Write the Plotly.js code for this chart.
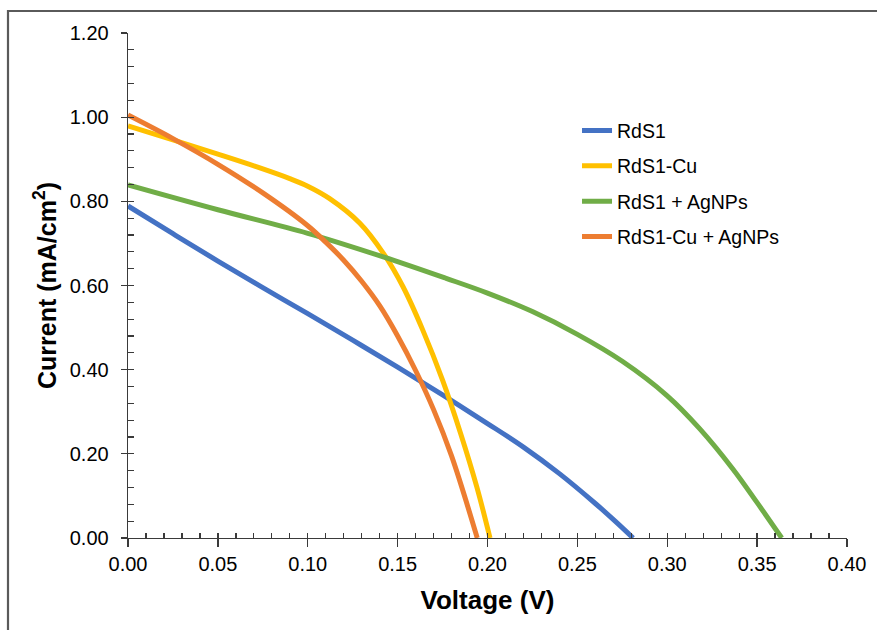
<!DOCTYPE html>
<html>
<head>
<meta charset="utf-8">
<script src="https://cdn.plot.ly/plotly-3.0.1.min.js"></script>
<style>html,body{margin:0;padding:0;background:#fff;}#chart{width:877px;height:630px;}</style>
</head>
<body>
<div id="chart"></div>
<script>
// Series names
const seriesNames = ["RdS1", "RdS1-Cu", "RdS1 + AgNPs", "RdS1-Cu + AgNPs"];
const seriesColors = ["#4472C4", "#FFC000", "#70AD47", "#ED7D31"];

// RdS1
const vRdS1 = [0, 0.025, 0.05, 0.075, 0.10, 0.125, 0.15, 0.175, 0.20, 0.22, 0.24, 0.26, 0.271, 0.281];
const jRdS1 = [0.789, 0.723, 0.658, 0.595, 0.533, 0.470, 0.406, 0.340, 0.272, 0.216, 0.153, 0.082, 0.040, 0];

// RdS1-Cu
const vRdS1Cu = [0, 0.025, 0.05, 0.075, 0.09, 0.10, 0.112, 0.129, 0.142, 0.153, 0.164, 0.175, 0.185, 0.194, 0.2014];
const jRdS1Cu = [0.979, 0.946, 0.912, 0.877, 0.854, 0.836, 0.807, 0.748, 0.677, 0.597, 0.494, 0.375, 0.249, 0.122, 0];

// RdS1 + AgNPs
const vRdS1Ag = [0, 0.05, 0.10, 0.142, 0.177, 0.20, 0.225, 0.25, 0.275, 0.30, 0.318, 0.3367, 0.35, 0.3637];
const jRdS1Ag = [0.839, 0.780, 0.724, 0.668, 0.617, 0.582, 0.538, 0.484, 0.420, 0.338, 0.260, 0.163, 0.084, 0];

// RdS1-Cu + AgNPs
const vRdS1CuAg = [0, 0.025, 0.05, 0.075, 0.10, 0.11, 0.12, 0.13, 0.14, 0.15, 0.16, 0.17, 0.18, 0.1943];
const jRdS1CuAg = [1.005, 0.949, 0.888, 0.820, 0.742, 0.703, 0.660, 0.610, 0.552, 0.480, 0.398, 0.305, 0.195, 0];

// Axis ticks
const xTickVals = [0, 0.05, 0.10, 0.15, 0.20, 0.25, 0.30, 0.35, 0.40];
const yTickVals = [0, 0.20, 0.40, 0.60, 0.80, 1.00, 1.20];

const xs = [vRdS1, vRdS1Cu, vRdS1Ag, vRdS1CuAg];
const ys = [jRdS1, jRdS1Cu, jRdS1Ag, jRdS1CuAg];

const font = "Liberation Sans, Arial, sans-serif";
const axisColor = "#3a3a3a";

const traces = seriesNames.map((n, i) => ({
  type: "scatter", mode: "lines", name: n,
  x: xs[i], y: ys[i],
  line: {color: seriesColors[i], width: 5, shape: "spline", smoothing: 1},
  legendgroup: "g" + i,
  hoverinfo: "x+y+name"
}));
// helper trace so the minor-tick overlay axes are drawn
traces.push({type: "scatter", mode: "lines", x: [null], y: [null], xaxis: "x2", yaxis: "y2",
  showlegend: false, hoverinfo: "skip"});

const layout = {
  width: 877, height: 630,
  margin: {l: 128, r: 30, t: 33, b: 92},
  paper_bgcolor: "#ffffff", plot_bgcolor: "#ffffff",
  font: {family: font, color: "#000"},
  showlegend: true,
  legend: {
    x: 0.6245, y: 0.845, xanchor: "left", yanchor: "top",
    font: {family: font, size: 19.5, color: "#000"},
    tracegroupgap: 7, bgcolor: "rgba(0,0,0,0)"
  },
  xaxis: {
    range: [0, 0.4], tickvals: xTickVals, tickformat: ".2f",
    ticks: "outside", ticklen: 8, tickwidth: 1.3, tickcolor: axisColor,
    showline: true, linecolor: axisColor, linewidth: 1.3,
    showgrid: false, zeroline: false,
    tickfont: {family: font, size: 20, color: "#000"},
    title: {text: "<b>Voltage (V)</b>", font: {family: font, size: 26, color: "#000"}, standoff: 16}
  },
  yaxis: {
    range: [0, 1.2], tickvals: yTickVals, tickformat: ".2f",
    ticks: "outside", ticklen: 6, tickwidth: 1.3, tickcolor: axisColor,
    showline: true, linecolor: axisColor, linewidth: 1.3,
    showgrid: false, zeroline: false,
    tickfont: {family: font, size: 20, color: "#000"},
    ticklabelstandoff: 8,
    title: {text: "<b>Current (mA/cm<sup>2</sup>)</b>", font: {family: font, size: 25, color: "#000"}, standoff: 6}
  },
  xaxis2: {
    overlaying: "x", anchor: "y2", side: "bottom", range: [0, 0.4], dtick: 0.01, tick0: 0,
    ticks: "inside", ticklen: 5.5, tickwidth: 1.3, tickcolor: axisColor,
    showticklabels: false, showline: false, showgrid: false, zeroline: false
  },
  yaxis2: {
    overlaying: "y", anchor: "x2", side: "left", range: [0, 1.2], dtick: 0.04, tick0: 0,
    ticks: "inside", ticklen: 5.5, tickwidth: 1.3, tickcolor: axisColor,
    showticklabels: false, showline: false, showgrid: false, zeroline: false
  },
  shapes: [{
    type: "path", xref: "paper", yref: "paper",
    path: "M -0.1669 -0.25 L -0.1669 1.0436 L 1.06 1.0436",
    line: {color: "#5a5a5a", width: 2.2}, layer: "above"
  }]
};

Plotly.newPlot("chart", traces, layout, {displayModeBar: false, staticPlot: true});
</script>
</body>
</html>
